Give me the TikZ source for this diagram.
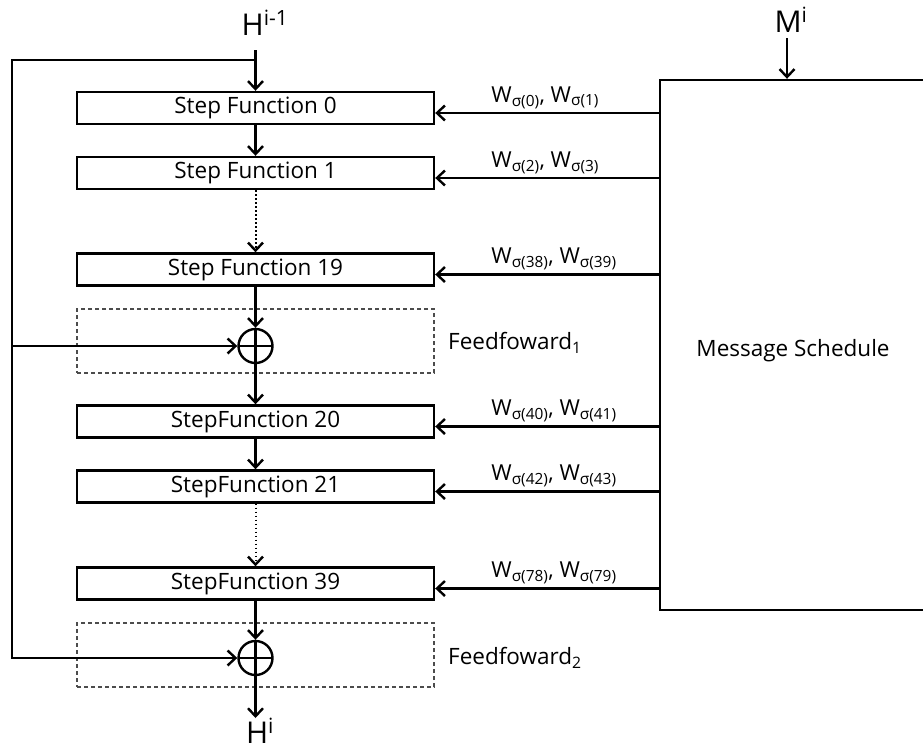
\documentclass[tikz,border=0pt]{standalone}
\usepackage{fontspec}
\setmainfont{Open Sans}
\usetikzlibrary{arrows.meta}
\begin{document}
\begin{tikzpicture}[x=1pt,y=-1pt,
  every node/.style={font=\fontsize{22.5}{26}\selectfont},
  stepbox/.style={draw, line width=2.4pt, minimum width=357pt, minimum height=32pt, inner sep=0pt},
  dashbox/.style={draw=black!70, dash pattern=on 4pt off 3pt, line width=1.3pt, minimum width=357pt, minimum height=64pt, inner sep=0pt},
  xorop/.style={draw, circle, line width=2.4pt, minimum size=34pt, inner sep=0pt,
    path picture={\draw[line width=2.4pt] (path picture bounding box.north) -- (path picture bounding box.south)
      (path picture bounding box.west) -- (path picture bounding box.east);}},
  arr/.style={line width=2.4pt, -{Straight Barb[length=8pt,width=15pt,line width=2.4pt]}},
  darr/.style={line width=2pt, dash pattern=on 1.5pt off 2.5pt, -{Straight Barb[length=8pt,width=15pt,line width=2.4pt]}},
  wlab/.style={anchor=base west, inner sep=0pt, font=\fontsize{22}{26}\selectfont},
  big/.style={anchor=base, inner sep=0pt, font=\fontsize{30}{34}\selectfont}
]
\useasboundingbox (0,0) rectangle (923,750);

% step boxes
\node[stepbox] (s0)  at (255.5,108)   {Step Function 0};
\node[stepbox] (s1)  at (255.5,173)   {Step Function 1};
\node[stepbox] (s19) at (255.5,269.5) {Step Function 19};
\node[stepbox] (s20) at (255.5,421.5) {StepFunction 20};
\node[stepbox] (s21) at (255.5,486.5) {StepFunction 21};
\node[stepbox] (s39) at (255.5,583.5) {StepFunction 39};

% feedforward boxes
\node[dashbox] (f1) at (255.5,341) {};
\node[dashbox] (f2) at (255.5,655) {};
\node[xorop] (c1) at (255.5,346) {};
\node[xorop] (c2) at (255.5,658) {};
\node[anchor=base west, inner sep=0pt] (fl1) at (448,349) {Feedfoward\textsubscript{1}};
\node[anchor=base west, inner sep=0pt] (fl2) at (448,664) {Feedfoward\textsubscript{2}};

% message schedule
\node[draw, line width=2.4pt, minimum width=264pt, minimum height=530pt, inner sep=0pt] (ms) at (792,345) {};
\node[anchor=base, inner sep=0pt] (mslab) at (793,356) {Message Schedule};

% labels
\node[big] (hin)  at (265,35) {H\textsuperscript{i-1}};
\node[big] (hout) at (260,743) {H\textsuperscript{i}};
\node[big] (mi)   at (791,32)  {M\textsuperscript{i}};

\coordinate (htop) at (255.5,50);
\coordinate (hbot) at (255.5,718);
\coordinate (mtop) at (787,38);
\coordinate (L) at (12,60);

% main chain
\draw[arr] (htop) -- (s0.north);
\draw[arr] (s0.south) -- (s1.north);
\draw[darr] (s1.south) -- (s19.north);
\draw[arr] (s19.south) -- (c1.north);
\draw[arr] (c1.south) -- (s20.north);
\draw[arr] (s20.south) -- (s21.north);
\draw[darr] (s21.south) -- (s39.north);
\draw[arr] (s39.south) -- (c2.north);
\draw[arr] (c2.south) -- (hbot);

% feedback
\draw[arr] (htop |- L) -- (L) -- (L |- c2) -- (c2.west);
\draw[arr] (L |- c1) -- (c1.west);

% message input
\draw[arr] (mtop) -- (mtop |- ms.north);

% W arrows
\foreach \s/\a/\b in {s0/0/1, s1/2/3, s19/38/39, s20/40/41, s21/42/43, s39/78/79}{
  \path ([yshift=-5pt]\s.east) coordinate (a-\s);
  \draw[arr] (ms.west |- a-\s) -- (a-\s);
  \node[wlab] (w-\s) at ([xshift=56pt, yshift=11pt]a-\s) {W\textsubscript{σ(\a)}, W\textsubscript{σ(\b)}};
}
\end{tikzpicture}
\end{document}
